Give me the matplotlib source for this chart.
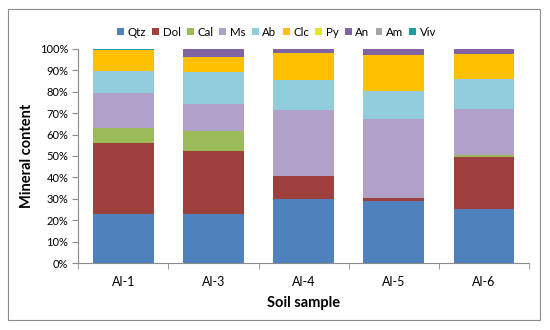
import matplotlib
matplotlib.use("Agg")
import matplotlib.pyplot as plt
import numpy as np
from matplotlib.patches import Rectangle
from matplotlib.ticker import PercentFormatter

plt.rcParams["font.family"] = ["Lato", "DejaVu Sans"]

samples = ["Al-1", "Al-3", "Al-4", "Al-5", "Al-6"]
minerals = ["Qtz", "Dol", "Cal", "Ms", "Ab", "Clc", "Py", "An", "Am", "Viv"]

qtz = [23.0, 23.0, 30.0, 29.1, 25.4]
dol = [33.0, 29.2, 10.5, 1.3, 24.3]
cal = [7.0, 9.5, 0.0, 0.0, 0.6]
ms = [16.3, 12.4, 31.0, 36.9, 21.5]
ab = [10.4, 15.3, 14.0, 13.1, 14.2]
clc = [9.6, 7.0, 12.6, 16.9, 11.5]
py = [0.0, 0.0, 0.0, 0.0, 0.0]
an = [0.0, 3.6, 1.9, 2.7, 2.5]
am = [0.3, 0.0, 0.0, 0.0, 0.0]
viv = [0.4, 0.0, 0.0, 0.0, 0.0]

colors = ["#4F81BD", "#9E413E", "#9BBB59", "#B1A0C7", "#92CDDC",
          "#FFC000", "#E6E619", "#8064A2", "#A5A5A5", "#1F9E9E"]

series = [qtz, dol, cal, ms, ab, clc, py, an, am, viv]

fig = plt.figure(figsize=(5.5, 3.3), dpi=100)
ax = fig.add_axes([0.142, 0.203, 0.82, 0.649])

# outer chart border
fig.patches.append(Rectangle((0.0145, 0.030), 0.967, 0.942, transform=fig.transFigure,
                             fill=False, edgecolor="#8c8c8c", linewidth=0.8))

x = np.arange(len(samples))
bottom = np.zeros(len(samples))
for name, vals, c in zip(minerals, series, colors):
    vals = np.array(vals)
    ax.bar(x, vals, 0.675, bottom=bottom, color=c, label=name)
    bottom += vals

ax.set_xlim(-0.5, len(samples) - 0.5)
ax.set_ylim(0, 100)
ax.set_yticks(np.arange(0, 101, 10))
ax.yaxis.set_major_formatter(PercentFormatter(decimals=0))
ax.set_xticks(x)
ax.set_xticklabels(samples)
ax.set_xticks(np.arange(-0.5, len(samples), 1), minor=True)
ax.tick_params(axis="x", which="major", length=0, labelsize=9, pad=9)
ax.tick_params(axis="x", which="minor", length=4, color="#8c8c8c")
ax.tick_params(axis="y", length=4, color="#8c8c8c", labelsize=8, pad=3)

for s in ["top", "right"]:
    ax.spines[s].set_visible(False)
for s in ["left", "bottom"]:
    ax.spines[s].set_color("#8c8c8c")
    ax.spines[s].set_linewidth(0.8)

ax.set_xlabel("Soil sample", fontsize=10.5, fontweight="bold", labelpad=6)
ax.set_ylabel("Mineral content", fontsize=10.5, fontweight="bold", labelpad=4)

ax.legend(loc="lower center", bbox_to_anchor=(0.44, 1.03), ncol=10, frameon=False,
          fontsize=8.3, handlelength=0.6, handleheight=0.6, handletextpad=0.3,
          columnspacing=0.55, borderaxespad=0)

plt.savefig("out.png", dpi=100)
